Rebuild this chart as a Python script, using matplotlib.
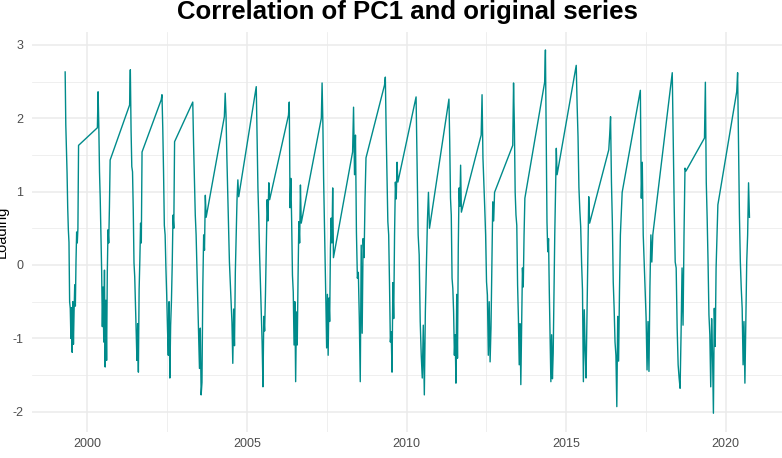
import numpy as np
import matplotlib
matplotlib.use("Agg")
import matplotlib.pyplot as plt
from matplotlib.ticker import FixedLocator

plt.rcParams['font.family'] = ['Liberation Sans', 'DejaVu Sans']

# each season: first and last observation (decimal year) and the loadings in between
season_start = [1999.30, 2000.31, 2001.32, 2002.31, 2003.30, 2004.29, 2005.29,
                2006.30, 2007.33, 2008.31, 2009.31, 2010.30, 2011.33, 2012.34,
                2013.33, 2014.33, 2015.32, 2016.34, 2017.33, 2018.33, 2019.34,
                2020.35]
season_end = [1999.72, 2000.71, 2001.71, 2002.73, 2003.72, 2004.74, 2005.71,
              2006.70, 2007.71, 2008.73, 2009.73, 2010.72, 2011.72, 2012.76,
              2013.71, 2014.72, 2015.74, 2016.76, 2017.72, 2018.76, 2019.76,
              2020.75]
season_vals = [
    [2.63, 1.91, 1.59, 1.25, 0.78, 0.48, 0.31, -0.5, -0.59, -1.0, -0.58, -1.19,
     -0.5, -1.08, -0.62, -0.27, -0.56, 0.05, 0.45, 0.3, 0.5, 1.63],
    [1.87, 2.36, 1.9, 1.27, 0.91, 0.43, -0.07, -0.84, -0.3, -1.05, -0.07, -1.39,
     -0.48, -1.3, -0.1, 0.48, 0.3, 0.79, 1.43],
    [2.18, 2.66, 1.84, 1.34, 1.27, 0.75, 0.03, -0.16, -0.52, -0.91, -1.3, -0.8,
     -1.46, -0.34, 0.07, 0.57, 0.3, 1.54],
    [2.25, 2.32, 1.87, 1.27, 0.54, 0.41, -0.04, -0.41, -0.86, -1.23, -0.5, -1.54,
     -0.82, -0.5, 0.0, 0.68, 0.5, 1.68],
    [2.22, 1.63, 1.18, 0.68, 0.41, -0.04, -0.5, -0.95, -1.41, -0.86, -1.77, -1.6,
     -0.3, 0.41, 0.2, 0.95, 0.65],
    [2.02, 2.34, 2.04, 1.46, 0.99, 0.5, 0.04, -0.23, -0.5, -0.78, -1.34, -0.6,
     -1.1, -0.1, 0.41, 0.89, 1.16, 0.93],
    [2.43, 1.77, 1.05, 0.64, 0.14, -0.27, -0.68, -1.05, -1.66, -0.7, -0.9, -0.4,
     0.23, 0.89, 0.6, 1.12, 0.89],
    [2.04, 2.22, 0.78, 1.18, 0.59, -0.14, -0.37, -1.09, -0.5, -1.59, -0.64, -1.09,
     -0.18, 0.59, 0.3, 1.09, 0.57],
    [2.0, 2.48, 1.95, 1.18, 0.64, 0.04, -0.5, -1.13, -0.4, -1.23, -0.45, -0.77,
     0.23, 0.64, 0.3, 1.05, 0.1],
    [1.54, 2.15, 1.23, 1.77, 0.45, -0.18, -0.1, -0.72, -1.59, 0.27, -0.93, 0.36,
     0.1, 0.91, 1.46],
    [2.45, 2.56, 1.81, 1.23, 0.59, 0.41, -0.27, -1.05, -0.91, -1.46, -0.24, -0.73,
     0.41, 1.13, 0.9, 1.4, 1.13],
    [2.29, 1.32, 0.41, 0.14, -0.77, -1.23, -1.54, -0.82, -1.77, -0.64, 0.0, 0.6,
     0.99, 0.5],
    [2.26, 1.68, 0.91, 0.68, -0.18, -0.32, -0.64, -1.23, -0.95, -1.61, -0.4, -1.27,
     0.23, 1.05, 0.8, 1.36, 0.72],
    [1.77, 2.32, 1.46, 1.13, 0.78, 0.41, -0.23, -0.41, -1.23, -0.5, -1.32, -0.86,
     -0.04, 0.86, 0.6, 0.99],
    [1.63, 2.48, 1.91, 0.99, 0.68, 0.54, -0.27, -0.72, -1.36, -0.8, -1.63, -0.8,
     -0.04, -0.3, 0.41, 0.91],
    [2.49, 2.93, 1.77, 0.59, 0.18, 0.36, -0.37, -0.95, -1.59, -0.95, -1.55, -1.2,
     -0.37, 0.41, 1.0, 1.59, 1.23],
    [2.72, 2.18, 1.75, 1.06, 0.75, 0.52, 0.03, -0.34, -1.59, -0.61, -1.16, -1.54,
     -0.75, 0.11, 0.93, 0.57],
    [1.57, 1.77, 2.02, 1.13, 0.59, -0.23, -0.59, -1.05, -1.23, -1.93, -0.7, -1.31,
     -0.35, 0.41, 0.7, 0.99],
    [2.38, 0.91, 1.4, 0.41, 0.04, -0.37, -0.72, -1.43, -0.77, -1.45, -0.3, 0.41,
     0.04, 0.41],
    [2.62, 1.68, 0.78, 0.04, -0.04, -0.86, -1.36, -1.54, -1.68, -0.93, -0.04, -0.82,
     0.41, 1.32, 1.28],
    [1.73, 2.49, 1.13, 0.64, 0.04, -0.68, -0.95, -1.66, -0.73, -1.2, -2.02, -0.59,
     -1.11, -0.04, 0.41, 0.82],
    [2.36, 2.62, 1.59, 0.68, 0.04, -0.32, -0.59, -1.36, -0.77, -1.61, -0.82, 0.04,
     0.41, 1.12, 0.65],
]

x_breaks = [2000, 2005, 2010, 2015, 2020]
y_breaks = [-2, -1, 0, 1, 2, 3]

t = []
v = []
for s, e, vals in zip(season_start, season_end, season_vals):
    t.extend(np.linspace(s, e, len(vals)))
    v.extend(vals)

W, H = 782, 458
fig = plt.figure(figsize=(W / 100, H / 100), dpi=100)
ax = fig.add_axes([31.5 / W, 1 - 431.6 / H, (782 - 31.5) / W, (431.6 - 31.6) / H])

ax.plot(t, v, color='#008B8B', linewidth=1.0, zorder=3)

ax.set_xlim(1998.245, 2021.77)
ax.set_ylim(-2.27, 3.18)

ax.xaxis.set_major_locator(FixedLocator(x_breaks))
ax.xaxis.set_minor_locator(FixedLocator([2002.5, 2007.5, 2012.5, 2017.5]))
ax.yaxis.set_major_locator(FixedLocator(y_breaks))
ax.yaxis.set_minor_locator(FixedLocator([-1.5, -0.5, 0.5, 1.5, 2.5]))
ax.set_xticklabels([str(b) for b in x_breaks])
ax.set_yticklabels([str(b) for b in y_breaks])

ax.grid(which='major', color='#EBEBEB', linewidth=1.1)
ax.grid(which='minor', color='#EBEBEB', linewidth=0.55)
ax.set_axisbelow(True)
for sp in ax.spines.values():
    sp.set_visible(False)
ax.tick_params(which='both', length=0)
ax.tick_params(axis='x', pad=4.6, labelsize=9, labelcolor='#4D4D4D')
ax.tick_params(axis='y', pad=5.8, labelsize=9, labelcolor='#4D4D4D')

fig.text(407.5 / W, 1 - 19.5 / H, 'Correlation of PC1 and original series',
         ha='center', va='baseline', fontsize=18.5, fontweight='bold')
fig.text(8.5 / W, 1 - 231.6 / H, 'Loading', rotation=90, ha='right',
         va='center', fontsize=10.5)

fig.savefig('out.png', dpi=100)
